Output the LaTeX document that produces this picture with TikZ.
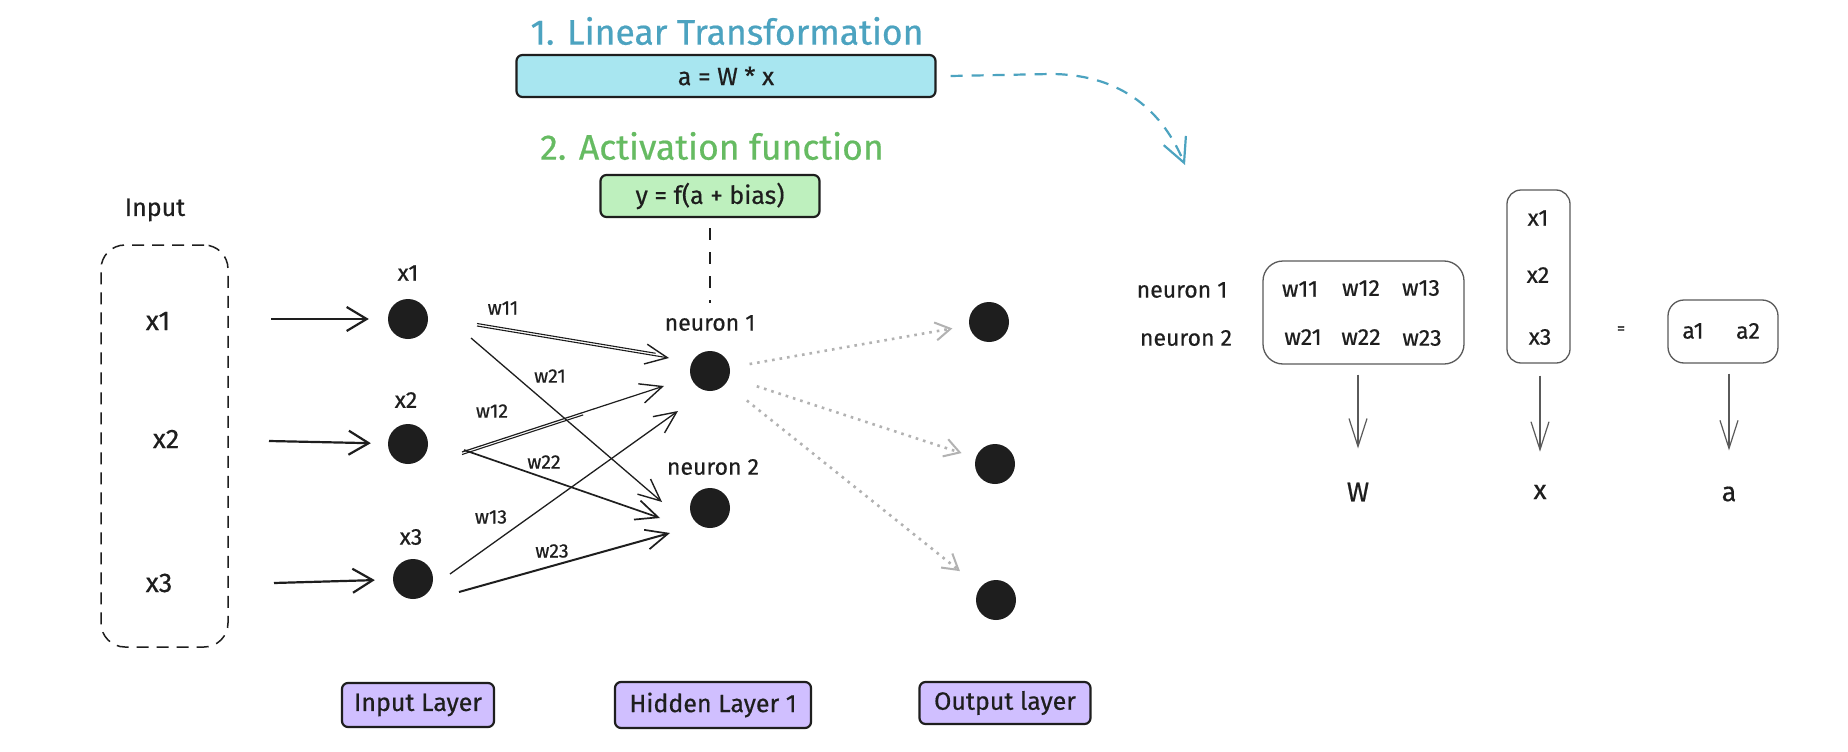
\documentclass[tikz,border=0pt]{standalone}
\usepackage{fontspec}
\setmainfont{Fira Sans}[FakeBold=0.5]
\usetikzlibrary{arrows.meta,calc}
\definecolor{titleblue}{RGB}{76,163,192}
\definecolor{boxblue}{RGB}{168,230,240}
\definecolor{titlegreen}{RGB}{102,187,98}
\definecolor{boxgreen}{RGB}{190,240,190}
\definecolor{boxviolet}{RGB}{208,191,255}
\definecolor{ink}{RGB}{30,30,30}
\definecolor{dotgray}{RGB}{178,178,178}
\definecolor{matgray}{RGB}{90,90,90}
\begin{document}
\begin{tikzpicture}[x=1pt,y=-1pt,
  every node/.style={text=ink, inner sep=0pt},
  ttl/.style={font=\fontsize{35.5}{38}\selectfont},
  txt/.style={font=\fontsize{23}{26}\selectfont},
  mtxt/.style={font=\fontsize{23}{26}\selectfont},
  big/.style={font=\fontsize{27}{30}\selectfont},
  wlbl/.style={font=\fontsize{19.5}{22}\selectfont},
  neuron/.style={circle, fill=ink, minimum size=40pt},
  colorbox/.style={draw=ink, line width=2.2pt, rounded corners=6pt, font=\fontsize{25}{28}\selectfont},
  layerbox/.style={colorbox, fill=boxviolet},
  matbox/.style={draw=matgray, line width=1.3pt},
  inarr/.style={draw=ink, line width=2.2pt, -{Straight Barb[length=20pt,width=24pt,line width=2.2pt]}},
  wedge/.style={draw=ink, line width=1.7pt, -{Straight Barb[length=22pt,width=20pt,line width=1.7pt]}},
  thinedge/.style={draw=ink, line width=1.3pt, -{Straight Barb[length=22pt,width=20pt,line width=1.4pt]}},
  dotarr/.style={draw=dotgray, line width=2.6pt, dash pattern=on 2.6pt off 5pt, -{Straight Barb[length=15pt,width=18pt,line width=2pt]}},
  downarr/.style={draw=matgray, line width=1.2pt, -{Straight Barb[length=28pt,width=18pt,line width=1.2pt]}}
]
\fill[white] (0,0) rectangle (1848,752);
\useasboundingbox (0,0) rectangle (1848,752);

% titles and formula boxes
\node[ttl, text=titleblue] (ltt) at (727,31) {1. Linear Transformation};
\node[colorbox, fill=boxblue, minimum width=419pt, minimum height=42pt] (lt) at (726,76) {a = W * x};
\node[ttl, text=titlegreen] (aft) at (712,146) {2. Activation function};
\node[colorbox, fill=boxgreen, minimum width=219pt, minimum height=42pt] (af) at (710,196) {y = f(a + bias)};

% input box
\node[txt, font=\fontsize{25}{28}\selectfont] (inlbl) at (155,210) {Input};
\node[draw=ink, line width=1.5pt, dash pattern=on 12pt off 8pt, rounded corners=24pt,
      minimum width=127pt, minimum height=402pt] (inbox) at (164.5,446) {};
\node[big] (ix1) at (158,321) {x1};
\node[big] (ix2) at (166,439) {x2};
\node[big] (ix3) at (159,583) {x3};

% input layer
\node[neuron] (nx1) at (408,319) {};
\node[neuron] (nx2) at (408,444) {};
\node[neuron] (nx3) at (413,579) {};
\node[txt] (lx1) at (408,273) {x1};
\node[txt] (lx2) at (406,400) {x2};
\node[txt] (lx3) at (411,537) {x3};

\coordinate (a1s) at (271,319);
\coordinate (a2s) at (269,441);
\coordinate (a3s) at (274,583);
\draw[inarr, shorten >=19pt] (a1s) -- (nx1);
\draw[inarr, shorten >=17pt] (a2s) -- (nx2);
\draw[inarr, shorten >=18pt] (a3s) -- (nx3);

% hidden layer
\node[neuron] (nh1) at (710,371) {};
\node[neuron] (nh2) at (710,508) {};
\node[txt] (lh1) at (710,323) {neuron 1};
\node[txt] (lh2) at (713,467) {neuron 2};
\draw[ink, line width=2.2pt, dash pattern=on 12pt off 12pt, shorten <=10pt, shorten >=12pt] (af.south -| lh1.north) -- (lh1.north);

% output layer
\node[neuron] (no1) at (989,322) {};
\node[neuron] (no2) at (995,464) {};
\node[neuron] (no3) at (996,600) {};

% weight edges
\coordinate (w11a) at (477,326); \coordinate (w11b) at (669,358);
\coordinate (w21a) at (471,338); \coordinate (w21b) at (662,502);
\coordinate (w12a) at (462,452); \coordinate (w12b) at (664,386);
\coordinate (w22a) at (464,450); \coordinate (w22b) at (660,518);
\coordinate (w13a) at (450,574); \coordinate (w13b) at (678,411);
\coordinate (w23a) at (459,592); \coordinate (w23b) at (670,533);

\draw[thinedge, line width=1.1pt] (w11a) -- (w11b);
\draw[ink, line width=1.1pt] ([yshift=2.5pt]w11a) -- ($([yshift=2.5pt]w11a)!0.93!([yshift=2.5pt]w11b)$);
\draw[thinedge] (w21a) -- (w21b);
\draw[thinedge, line width=1.2pt] (w12a) -- (w12b);
\draw[ink, line width=1.1pt] ([yshift=-2.5pt]w12a) -- ($([yshift=-2.5pt]w12a)!0.6!([yshift=-2.5pt]w12b)$);
\draw[wedge] (w22a) -- (w22b);
\draw[thinedge] (w13a) -- (w13b);
\draw[wedge, line width=2pt] (w23a) -- (w23b);

\node[wlbl] (lw11) at (503,308) {w11};
\node[wlbl] (lw21) at (550,376) {w21};
\node[wlbl] (lw12) at (492,411) {w12};
\node[wlbl] (lw22) at (544,462) {w22};
\node[wlbl] (lw13) at (491,517) {w13};
\node[wlbl] (lw23) at (552,551) {w23};

% dotted outputs
\draw[dotarr, shorten <=20pt, shorten >=17pt] (nh1) -- (no1);
\draw[dotarr, shorten <=29pt, shorten >=15pt] (nh1) -- (no2);
\draw[dotarr, shorten <=27pt, shorten >=26pt] (nh1) -- (no3);

% layer labels
\node[layerbox, minimum width=152pt, minimum height=44pt] (bin) at (418,705) {Input Layer};
\node[layerbox, minimum width=196pt, minimum height=46pt] (bhid) at (713,705) {Hidden Layer 1};
\node[layerbox, minimum width=171pt, minimum height=42pt] (bout) at (1005,703) {Output layer};

% curved dashed arrow
\coordinate (ltend) at (1185,165);
\draw[titleblue, line width=2.2pt, dash pattern=on 12pt off 9pt,
      -{Straight Barb[length=24pt,width=24pt,line width=2.2pt]}]
  ([xshift=14pt]lt.east) -- (1050,74) .. controls (1115,74) and (1160,105) .. (ltend);

% matrix side
\node[txt] (rn1) at (1182,290) {neuron 1};
\node[txt] (rn2) at (1186,338) {neuron 2};
\node[matbox, rounded corners=20pt, minimum width=201pt, minimum height=103pt] (Wbox) at (1363.5,312.5) {};
\node[mtxt] (m11) at (1300,289) {w11};
\node[mtxt] (m12) at (1361,288) {w12};
\node[mtxt] (m13) at (1421,288) {w13};
\node[mtxt] (m21) at (1303,337) {w21};
\node[mtxt] (m22) at (1361,337) {w22};
\node[mtxt] (m23) at (1422,338) {w23};

\node[matbox, rounded corners=14pt, minimum width=63pt, minimum height=173pt] (xbox) at (1538.5,276.5) {};
\node[mtxt] (v1) at (1538,218) {x1};
\node[mtxt] (v2) at (1538,275) {x2};
\node[mtxt] (v3) at (1540,337) {x3};

\node[font=\fontsize{16}{18}\selectfont] (eq) at (1621,330) {=};

\node[matbox, rounded corners=16pt, minimum width=110pt, minimum height=63pt] (abox) at (1723,331.5) {};
\node[mtxt] (a1) at (1693,331) {a1};
\node[mtxt] (a2) at (1748,331) {a2};

\node[big] (Wl) at (1358,492) {W};
\node[big] (xl) at (1540,492) {x};
\node[big] (al) at (1729,494) {a};

\draw[downarr, shorten <=10pt, shorten >=34pt] (Wbox.south -| Wl) -- (Wl);
\draw[downarr, shorten <=12pt, shorten >=33pt] (xbox.south -| xl) -- (xl);
\draw[downarr, shorten <=10pt, shorten >=36pt] (abox.south -| al) -- (al);
\end{tikzpicture}
\end{document}
